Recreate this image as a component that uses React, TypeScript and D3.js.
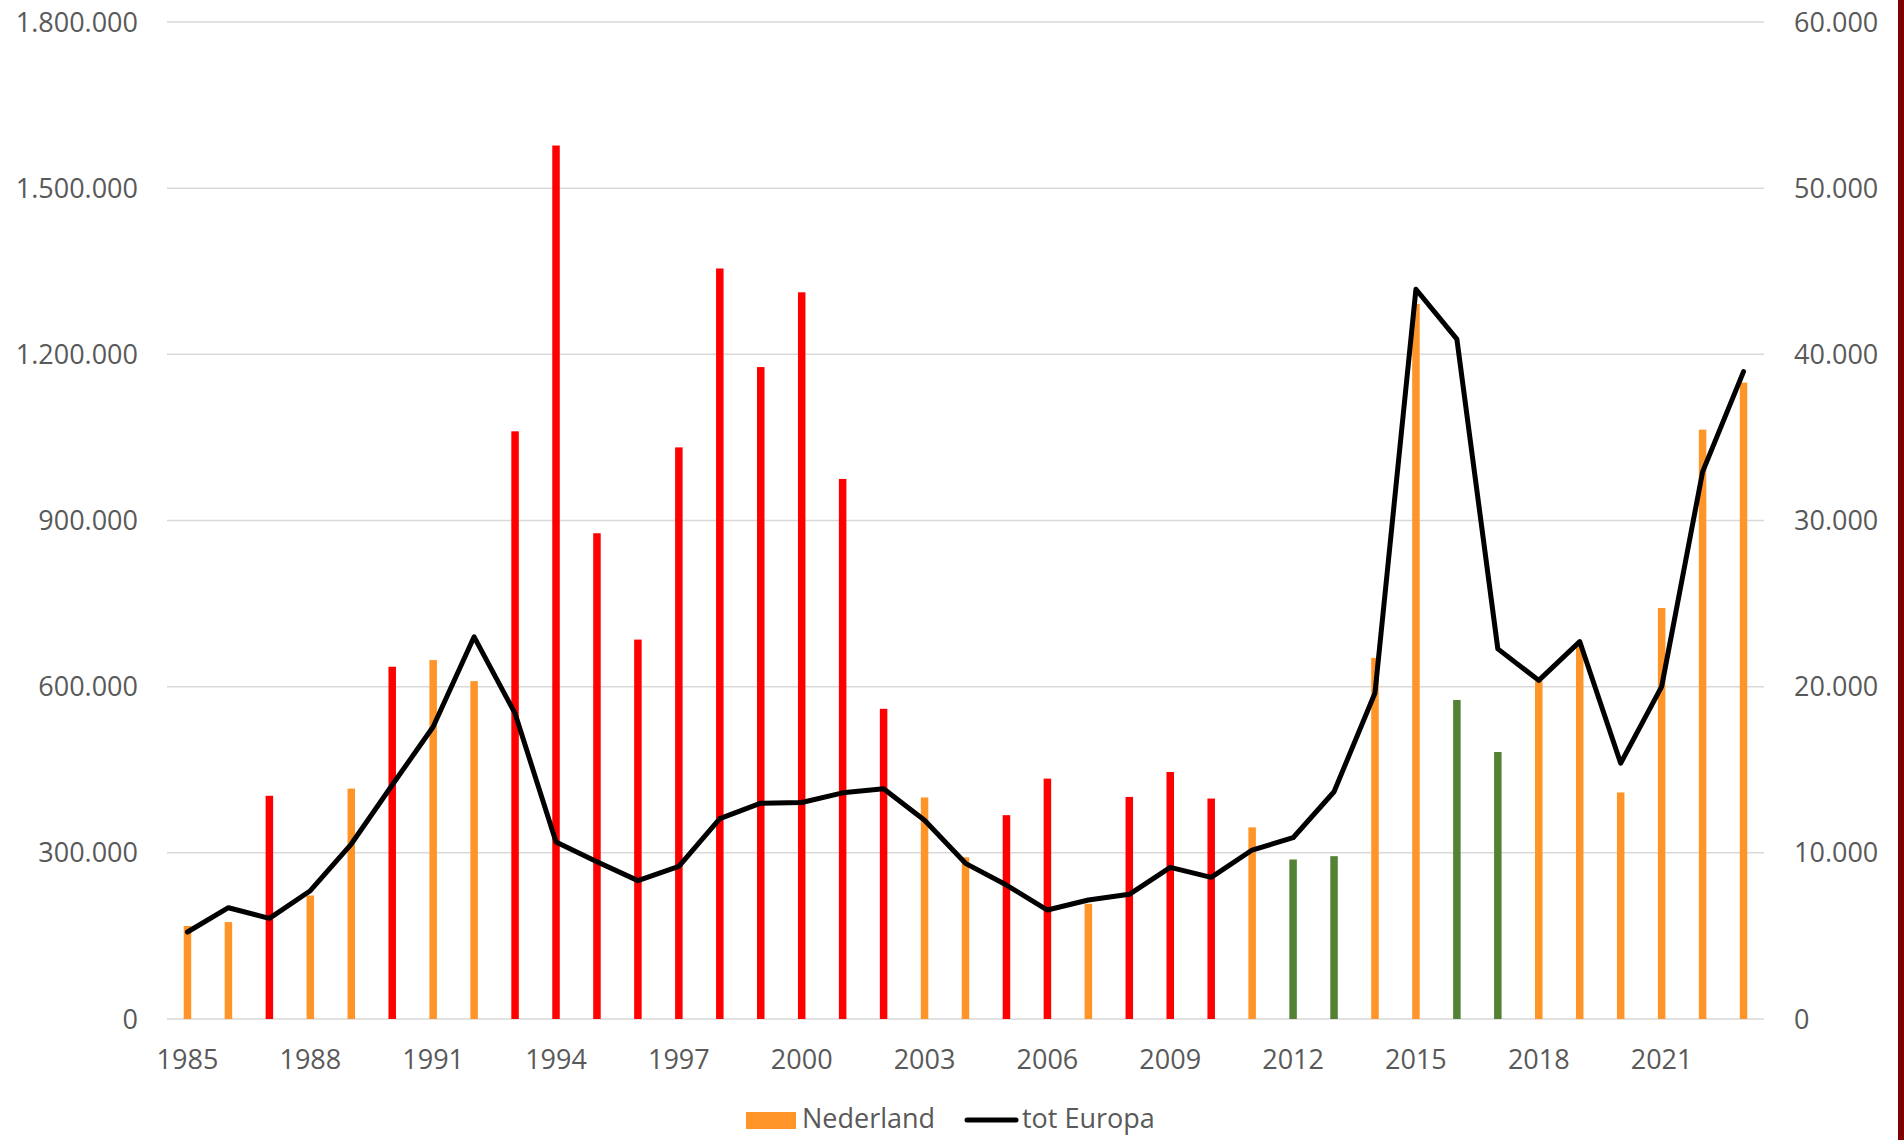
import React, { useEffect, useRef } from "react";
import * as d3 from "d3";

const years: string[] = [
  "1985", "1986", "1987", "1988", "1989", "1990", "1991", "1992", "1993", "1994",
  "1995", "1996", "1997", "1998", "1999", "2000", "2001", "2002", "2003", "2004",
  "2005", "2006", "2007", "2008", "2009", "2010", "2011", "2012", "2013", "2014",
  "2015", "2016", "2017", "2018", "2019", "2020", "2021", "2022", "2023",
];

// Nederland (left axis)
const nederland: number[] = [
  168000, 175000, 403000, 223000, 416000, 636000, 648000, 610000, 1061000, 1577000,
  877000, 685000, 1032000, 1355000, 1177000, 1312000, 975000, 560000, 400000, 292000,
  368000, 434000, 208000, 401000, 446000, 398000, 346000, 288000, 294000, 652000,
  1291000, 576000, 482000, 610000, 675000, 409000, 742000, 1064000, 1149000,
];

// bar colour class per year: o = orange, r = red, g = green
const barClass: string[] = [
  "o", "o", "r", "o", "o", "r", "o", "o", "r", "r",
  "r", "r", "r", "r", "r", "r", "r", "r", "o", "o",
  "r", "r", "o", "r", "r", "r", "o", "g", "g", "o",
  "o", "g", "g", "o", "o", "o", "o", "o", "o",
];

// tot Europa (right axis)
const totEuropa: number[] = [
  5235, 6697, 6059, 7720, 10530, 14080, 17590, 23000, 18390, 10650,
  9465, 8327, 9188, 12058, 12990, 13026, 13610, 13851, 11955, 9368,
  8063, 6558, 7160, 7503, 9128, 8526, 10168, 10909, 13676, 19621,
  43917, 40915, 22274, 20379, 22714, 15391, 20000, 32924, 38959,
];

const leftTicks: number[] = [0, 300000, 600000, 900000, 1200000, 1500000, 1800000];
const rightTicks: number[] = [0, 10000, 20000, 30000, 40000, 50000, 60000];
const xLabels: string[] = ["1985", "1988", "1991", "1994", "1997", "2000", "2003", "2006", "2009", "2012", "2015", "2018", "2021"];

const colorMap: Record<string, string> = { o: "#FF9429", r: "#FF0000", g: "#548235" };

const W = 1904;
const H = 1140;

export default function App() {
  const ref = useRef<SVGSVGElement | null>(null);

  useEffect(() => {
    document.body.style.margin = "0";
    const svg = d3.select(ref.current);
    svg.selectAll("*").remove();

    const font = "'Open Sans', sans-serif";
    const textColor = "#595959";
    const fs = 27;

    const left = 167, right = 1764, top = 22, bottom = 1019;
    const x = d3.scaleBand<string>().domain(years).range([left, right]).padding(0);
    const yL = d3.scaleLinear().domain([0, 1800000]).range([bottom, top]);
    const yR = d3.scaleLinear().domain([0, 60000]).range([bottom, top]);

    const loc = d3.formatLocale({ decimal: ",", thousands: ".", grouping: [3], currency: ["€", ""] });
    const fmt = loc.format(",d");

    svg.append("rect").attr("x", 0).attr("y", 0).attr("width", W).attr("height", H).attr("fill", "#ffffff");

    // gridlines
    svg.append("g").selectAll("line").data(leftTicks).join("line")
      .attr("x1", left).attr("x2", right)
      .attr("y1", (d) => yL(d)).attr("y2", (d) => yL(d))
      .attr("stroke", "#D9D9D9").attr("stroke-width", 1.5);

    // left labels
    svg.append("g").selectAll("text").data(leftTicks).join("text")
      .attr("x", 138).attr("y", (d) => yL(d) + 9.5)
      .attr("text-anchor", "end")
      .attr("font-family", font).attr("font-size", fs).attr("fill", textColor)
      .text((d) => fmt(d));

    // right labels
    svg.append("g").selectAll("text").data(rightTicks).join("text")
      .attr("x", 1794).attr("y", (d) => yR(d) + 9.5)
      .attr("text-anchor", "start")
      .attr("font-family", font).attr("font-size", fs).attr("fill", textColor)
      .text((d) => fmt(d));

    // x labels
    svg.append("g").selectAll("text").data(xLabels).join("text")
      .attr("x", (d) => (x(d) as number) + x.bandwidth() / 2)
      .attr("y", 1069)
      .attr("text-anchor", "middle")
      .attr("font-family", font).attr("font-size", fs).attr("fill", textColor)
      .text((d) => d);

    // bars
    const bw = 7.5;
    svg.append("g").selectAll("rect").data(years).join("rect")
      .attr("x", (d) => (x(d) as number) + x.bandwidth() / 2 - bw / 2)
      .attr("width", bw)
      .attr("y", (d, i) => yL(nederland[i]))
      .attr("height", (d, i) => bottom - yL(nederland[i]))
      .attr("fill", (d, i) => colorMap[barClass[i]]);

    // line
    const line = d3.line<number>()
      .x((d, i) => (x(years[i]) as number) + x.bandwidth() / 2)
      .y((d) => yR(d));
    svg.append("path").datum(totEuropa)
      .attr("d", line)
      .attr("fill", "none").attr("stroke", "#000000").attr("stroke-width", 5)
      .attr("stroke-linejoin", "round").attr("stroke-linecap", "round");

    // legend
    const lg = svg.append("g");
    lg.append("rect").attr("x", 746).attr("y", 1112).attr("width", 50).attr("height", 17).attr("fill", colorMap.o);
    lg.append("text").attr("x", 802).attr("y", 1128)
      .attr("font-family", font).attr("font-size", fs).attr("fill", textColor).text("Nederland");
    lg.append("line").attr("x1", 967).attr("x2", 1016).attr("y1", 1120).attr("y2", 1120)
      .attr("stroke", "#000").attr("stroke-width", 5).attr("stroke-linecap", "round");
    lg.append("text").attr("x", 1022).attr("y", 1128)
      .attr("font-family", font).attr("font-size", fs).attr("fill", textColor).text("tot Europa");

    // right border
    svg.append("rect").attr("x", 1898).attr("y", 0).attr("width", 6).attr("height", H).attr("fill", "#7F0000");
  }, []);

  return (
    <div style={{ position: "absolute", left: 0, top: 0, width: W, height: H }}>
      <svg ref={ref} width={W} height={H} style={{ display: "block" }} />
    </div>
  );
}
